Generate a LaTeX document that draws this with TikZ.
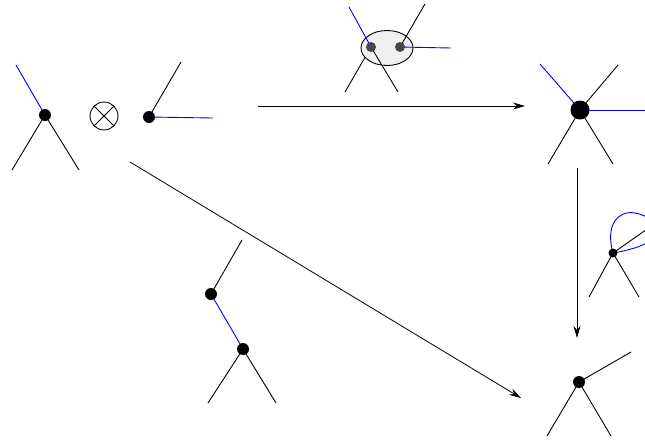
\documentclass[tikz,border=0pt]{standalone}
\usetikzlibrary{arrows.meta,shapes.geometric}
\pgfdeclarelayer{back}
\pgfdeclarelayer{mid}
\pgfsetlayers{back,mid,main}
\begin{document}
\begin{tikzpicture}[x=1pt,y=-1pt,
  ln/.style={line width=0.9pt,black},
  bl/.style={line width=0.9pt,blue},
  dot/.style={circle,fill=black,inner sep=0pt,minimum size=#1},
  gdot/.style={circle,fill=black!72,inner sep=0pt,minimum size=#1},
  arr/.style={line width=0.8pt,-{Stealth[length=12pt,width=7pt]}}]
\useasboundingbox (0,0) rectangle (645,440);
% dots (top layer)
\node[dot=12pt] (a) at (45,115) {};
\node[dot=12pt] (b) at (149,117) {};
\node[gdot=10pt] (l) at (371,47) {};
\node[gdot=10pt] (r) at (400,47) {};
\node[dot=19pt] (c) at (580,110) {};
\node[dot=9pt] (d) at (613,253) {};
\node[dot=12pt] (p) at (211,294) {};
\node[dot=12pt] (q) at (243,349) {};
\node[dot=12pt] (f) at (579,382) {};
% ellipse and the line behind it
\begin{pgfonlayer}{back}
\coordinate (e1) at (345,92);
\draw[ln] (e1) -- (l.center);
\node[ellipse,draw,fill=black!6,line width=0.9pt,minimum width=52pt,minimum height=35pt] (el) at (387,48) {};
\end{pgfonlayer}
\begin{pgfonlayer}{mid}
% left vertex
\coordinate (a1) at (16,65);
\coordinate (a2) at (12,170);
\coordinate (a3) at (79,170);
\draw[bl] (a1) -- (a.center);
\draw[ln] (a.center) -- (a2);
\draw[ln] (a.center) -- (a3);
% vertex b
\coordinate (b1) at (181,62);
\coordinate (b2) at (213,118);
\draw[ln] (b.center) -- (b1);
\draw[bl] (b.center) -- (b2);
% top middle
\coordinate (l1) at (349,7);
\coordinate (l2) at (398,92);
\coordinate (r1) at (425,4);
\coordinate (r2) at (451,48);
\draw[bl] (l1) -- (l.center);
\draw[ln] (l.center) -- (l2);
\draw[ln] (r.center) -- (r1);
\draw[bl] (r.center) -- (r2);
% right vertex
\coordinate (c1) at (540,64);
\coordinate (c2) at (618,65);
\coordinate (c3) at (646,110);
\coordinate (c4) at (548,164);
\coordinate (c5) at (613,164);
\draw[bl] (c1) -- (c.center);
\draw[ln] (c.center) -- (c2);
\draw[bl] (c.center) -- (c3);
\draw[ln] (c.center) -- (c4);
\draw[ln] (c.center) -- (c5);
% loop vertex
\coordinate (dd1) at (589,297);
\coordinate (dd2) at (639,297);
\coordinate (dd3) at (660,220);
\draw[ln] (d.center) -- (dd1);
\draw[ln] (d.center) -- (dd2);
\draw[ln] (d.center) -- (dd3);
\draw[bl] (d.center) .. controls (605,225) and (618,210) .. (635,213) .. controls (648,215) and (660,225) .. (655,235) .. controls (650,245) and (630,250) .. (d.center);
% bottom-left tree
\coordinate (p1) at (242,240);
\coordinate (q1) at (208,403);
\coordinate (q2) at (276,403);
\draw[ln] (p.center) -- (p1);
\draw[bl] (p.center) -- (q.center);
\draw[ln] (q.center) -- (q1);
\draw[ln] (q.center) -- (q2);
% bottom-right vertex
\coordinate (f1) at (631,352);
\coordinate (f2) at (547,436);
\coordinate (f3) at (611,436);
\draw[ln] (f.center) -- (f1);
\draw[ln] (f.center) -- (f2);
\draw[ln] (f.center) -- (f3);
\end{pgfonlayer}
% otimes
\node[circle,draw,line width=0.9pt,minimum size=28pt,inner sep=0pt] (ot) at (104,116) {};
\draw[line width=0.9pt] (ot.north west) -- (ot.south east) (ot.north east) -- (ot.south west);
% arrows
\coordinate (t1) at (258,106);
\coordinate (t2) at (525,106);
\draw[arr] (t1) -- (t2);
\coordinate (d1) at (577,168);
\coordinate (d2) at (577,338);
\draw[arr] (d1) -- (d2);
\coordinate (g1) at (130,162);
\coordinate (g2) at (521,398);
\draw[arr] (g1) -- (g2);
\end{tikzpicture}
\end{document}
